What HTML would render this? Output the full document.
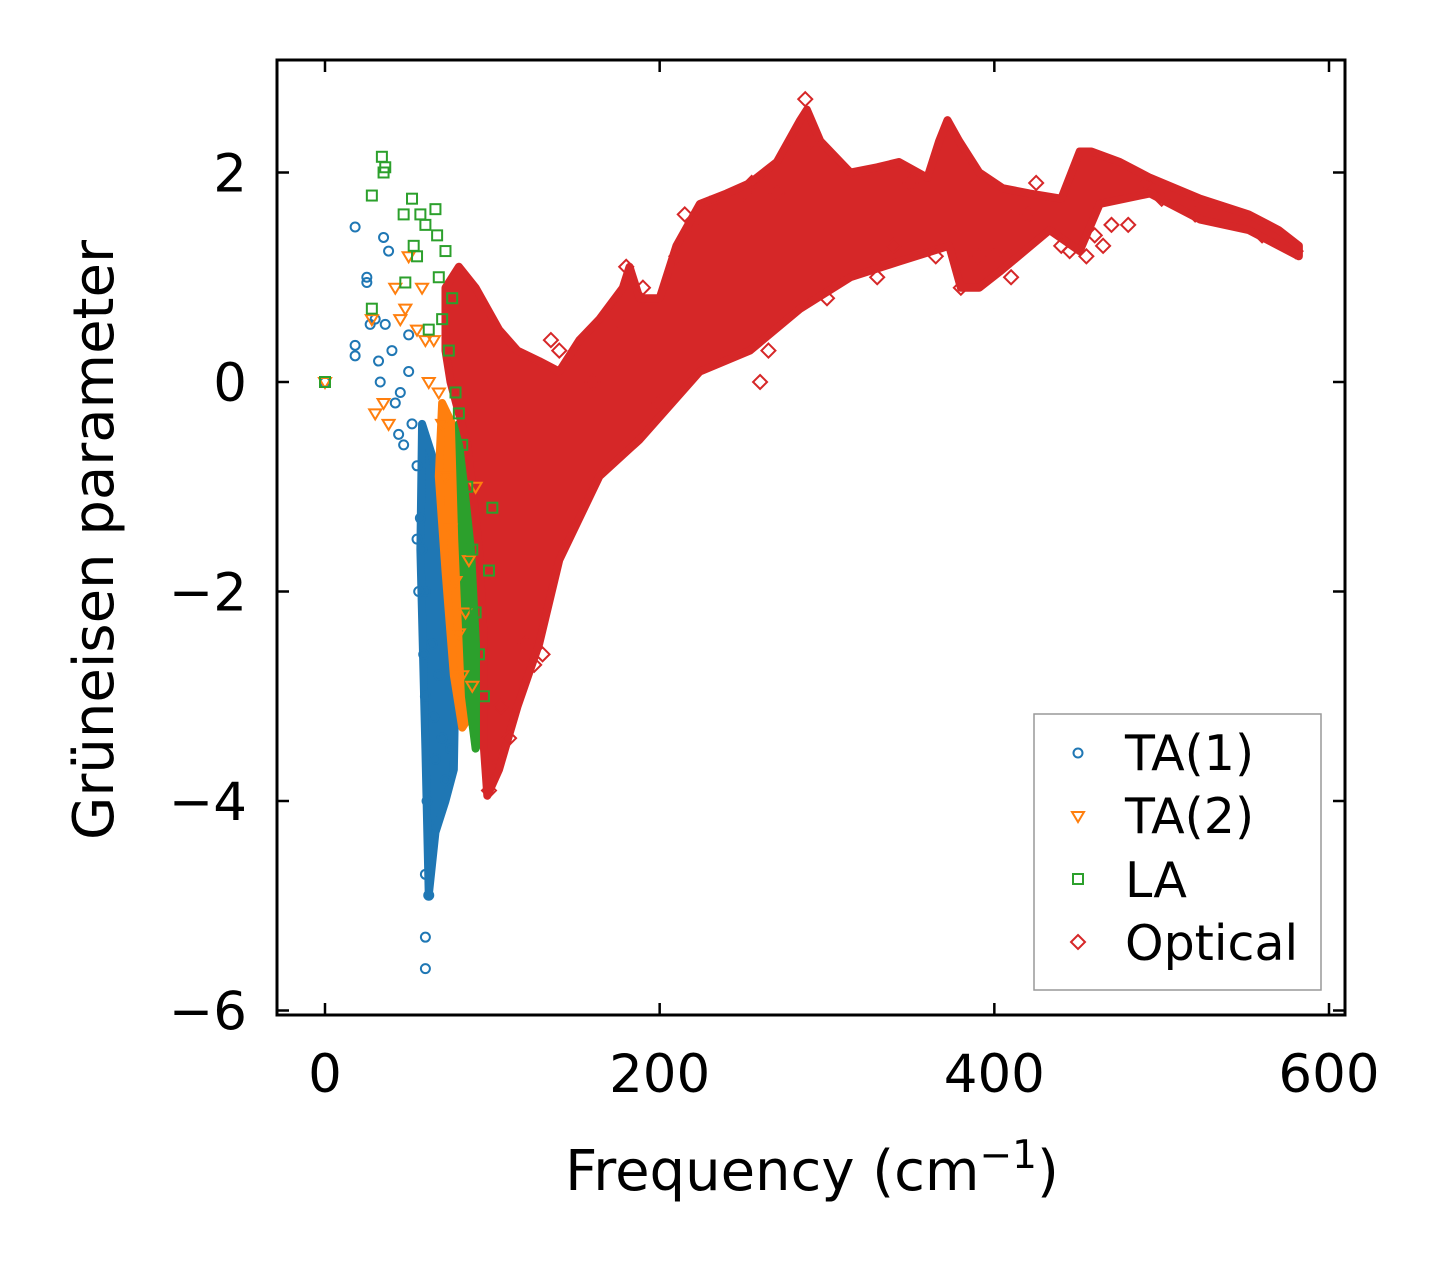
<!DOCTYPE html>
<html><head><meta charset="utf-8"><style>
body{margin:0;background:#fff}
svg text{font-family:"DejaVu Sans","Liberation Sans",sans-serif;fill:#000}
</style></head><body>
<svg id="chart" width="1445" height="1264" viewBox="0 0 1445 1264" xmlns="http://www.w3.org/2000/svg">
<g id="bands"></g>
<g id="points"></g>
<rect x="277" y="60" width="1068" height="955" fill="none" stroke="#000" stroke-width="3"/>
<g id="axes"></g>
<text x="812" y="1190" font-size="56" text-anchor="middle">Frequency (cm<tspan dy="-22" font-size="39">−1</tspan><tspan dy="22">)</tspan></text>
<text transform="translate(113,540) rotate(-90)" font-size="56" text-anchor="middle">Grüneisen parameter</text>
<g>
<rect x="1034" y="714" width="287" height="276" fill="#fff" stroke="#999" stroke-width="1.5"/>
<circle cx="1078" cy="753" r="4.5" fill="none" stroke="#1f77b4" stroke-width="2"/>
<text x="1125" y="770" font-size="49">TA(1)</text>
<path d="M1072,812 L1084,812 L1078,822 Z" fill="none" stroke="#ff7f0e" stroke-width="2"/>
<text x="1125" y="833" font-size="49">TA(2)</text>
<rect x="1073" y="874" width="10" height="10" fill="none" stroke="#2ca02c" stroke-width="2"/>
<text x="1125" y="897" font-size="49">LA</text>
<path d="M1078,935 L1085,942 L1078,949 L1071,942 Z" fill="none" stroke="#d62728" stroke-width="2"/>
<text x="1125" y="960" font-size="49">Optical</text>
</g>
</svg>
<script>
const xTicks=[0,200,400,600];
const yTicks=[-6,-4,-2,0,2];
const yTickLabels=["−6","−4","−2","0","2"];
const optUpperX=[72,80,90,104,115,128,140,152,164,178,182,188,200,210,224,240,254,270,284,288,296,314,330,343,360,367,372,379,391,405,421,440,451,458,475,493,523,552,570,582];
const optUpperY=[0.9,1.1,0.9,0.5,0.3,0.2,0.1,0.4,0.6,0.9,1.1,0.8,0.8,1.3,1.7,1.8,1.9,2.1,2.5,2.6,2.3,2.0,2.05,2.1,1.95,2.3,2.5,2.3,2.0,1.85,1.8,1.75,2.2,2.2,2.1,1.95,1.75,1.6,1.45,1.3];
const optLowerX=[582,552,523,493,463,451,433,403,391,380,373,343,314,284,254,224,188,164,140,128,115,104,97,95,95,92,88,85,80,75,72];
const optLowerY=[1.2,1.45,1.55,1.8,1.7,1.25,1.45,1.05,0.9,0.9,1.3,1.15,1.0,0.7,0.3,0.1,-0.55,-0.9,-1.7,-2.5,-3.1,-3.7,-3.95,-3.5,-2.5,-1.6,-1.0,-0.6,-0.3,0.0,0.3];
const laBandX=[80,88,96,100,99,95,90,86,82];
const laBandY=[-0.4,-0.5,-0.7,-1.2,-2.4,-3.3,-3.5,-3.0,-1.5];
const ta2BandX=[70,76,82,87,88,86,82,77,72,68];
const ta2BandY=[-0.2,-0.4,-0.8,-1.5,-2.5,-3.2,-3.3,-2.8,-1.8,-0.9];
const ta1BandX=[58,64,70,74,78,77,72,66,62,60,57];
const ta1BandY=[-0.4,-0.7,-1.2,-1.6,-2.8,-3.7,-4.0,-4.3,-4.9,-3.5,-1.6];
const ta1X=[0,18,18,18,25,25,27,30,32,33,35,36,38,40,42,44,45,47,50,50,52,55,57,58,60,60,60,60,62,63,64,65,66,68,70,72,75,55,56,60,61,59];
const ta1Y=[0,1.48,0.35,0.25,1.0,0.95,0.55,0.6,0.2,0,1.38,0.55,1.25,0.3,-0.2,-0.5,-0.1,-0.6,0.45,0.1,-0.4,-0.8,-1.3,-1.6,-2.0,-4.7,-5.3,-5.6,-4.9,-4.4,-2.5,-3.2,-3.6,-2.8,-3.4,-3.8,-3.5,-1.5,-2.0,-3.0,-4.0,-2.6];
const ta2X=[0,28,30,35,38,42,45,48,50,55,58,60,62,65,68,70,72,75,78,80,82,84,86,88,90];
const ta2Y=[0,0.6,-0.3,-0.2,-0.4,0.9,0.6,0.7,1.2,0.5,0.9,0.4,0.0,0.4,-0.1,-0.4,-0.9,-1.4,-1.9,-2.4,-2.8,-2.2,-1.7,-2.9,-1.0];
const laX=[0,28,28,34,35,36,47,48,52,53,55,57,60,62,66,67,68,70,72,74,76,78,80,82,85,88,90,92,95,98,100];
const laY=[0,1.78,0.7,2.15,2.0,2.05,1.6,0.95,1.75,1.3,1.2,1.6,1.5,0.5,1.65,1.4,1.0,0.6,1.25,0.3,0.8,-0.1,-0.3,-0.6,-1.0,-1.6,-2.2,-2.6,-3.0,-1.8,-1.2];
const optX=[105,120,125,135,140,160,175,180,190,200,210,215,220,230,250,255,260,265,270,287,290,300,330,340,350,365,380,390,400,410,420,425,440,445,455,460,465,470,480,490,500,520,560,580,98,100,110,130];
const optY=[-3.1,-2.5,-2.7,0.4,0.3,0.0,0.6,1.1,0.9,-0.2,1.2,1.6,1.5,1.7,1.8,1.9,0.0,0.3,1.8,2.7,2.3,0.8,1.0,1.3,1.9,1.2,0.9,1.2,1.2,1.0,1.6,1.9,1.3,1.25,1.2,1.4,1.3,1.5,1.5,1.9,1.75,1.6,1.4,1.25,-3.9,-3.7,-3.4,-2.6];

const X=v=>325+v*(1329-325)/600;
const Y=v=>382-v*104.75;
const NS="http://www.w3.org/2000/svg";
function mk(tag,attrs,parent){const e=document.createElementNS(NS,tag);for(const k in attrs)e.setAttribute(k,attrs[k]);parent.appendChild(e);return e;}
const bands=document.getElementById('bands'),pts=document.getElementById('points'),axes=document.getElementById('axes');
function band(xs,ys,color,name){
  const p=mk('polygon',{points:xs.map((x,i)=>X(x)+','+Y(ys[i])).join(' '),fill:color,stroke:color,'stroke-width':8,'stroke-linejoin':'round'},bands);
  
  
}
band(ta1BandX,ta1BandY,'#1f77b4','ta1-dense-band');
band(ta2BandX,ta2BandY,'#ff7f0e','ta2-dense-band');
band(laBandX,laBandY,'#2ca02c','la-dense-band');
band(optUpperX.concat(optLowerX),optUpperY.concat(optLowerY),'#d62728','optical-dense-band');
function marker(kind,x,y,color){
  const cx=X(x),cy=Y(y);let e;
  if(kind==='c')e=mk('circle',{cx:cx,cy:cy,r:4.5},pts);
  else if(kind==='t')e=mk('path',{d:`M${cx-6},${cy-4} L${cx+6},${cy-4} L${cx},${cy+6} Z`},pts);
  else if(kind==='s')e=mk('rect',{x:cx-5,y:cy-5,width:10,height:10},pts);
  else e=mk('path',{d:`M${cx},${cy-7} L${cx+7},${cy} L${cx},${cy+7} L${cx-7},${cy} Z`},pts);
  e.setAttribute('fill','none');e.setAttribute('stroke',color);e.setAttribute('stroke-width','2');
  
  
}
ta1X.forEach((x,i)=>marker('c',x,ta1Y[i],'#1f77b4'));
ta2X.forEach((x,i)=>marker('t',x,ta2Y[i],'#ff7f0e'));
laX.forEach((x,i)=>marker('s',x,laY[i],'#2ca02c'));
optX.forEach((x,i)=>marker('d',x,optY[i],'#d62728'));
xTicks.forEach(v=>{
  const x=X(v);
  mk('line',{x1:x,x2:x,y1:1015,y2:1003,stroke:'#000','stroke-width':2.5},axes);
  mk('line',{x1:x,x2:x,y1:60,y2:72,stroke:'#000','stroke-width':2.5},axes);
  const t=mk('text',{x:x,y:1092,'font-size':53,'text-anchor':'middle'},axes);t.textContent=v;
  
  
});
yTicks.forEach((v,i)=>{
  const y=Y(v);
  mk('line',{x1:277,x2:289,y1:y,y2:y,stroke:'#000','stroke-width':2.5},axes);
  mk('line',{x1:1345,x2:1333,y1:y,y2:y,stroke:'#000','stroke-width':2.5},axes);
  const t=mk('text',{x:247,y:y+19,'font-size':53,'text-anchor':'end'},axes);t.textContent=yTickLabels[i];
  
  
});
</script>
</body></html>
